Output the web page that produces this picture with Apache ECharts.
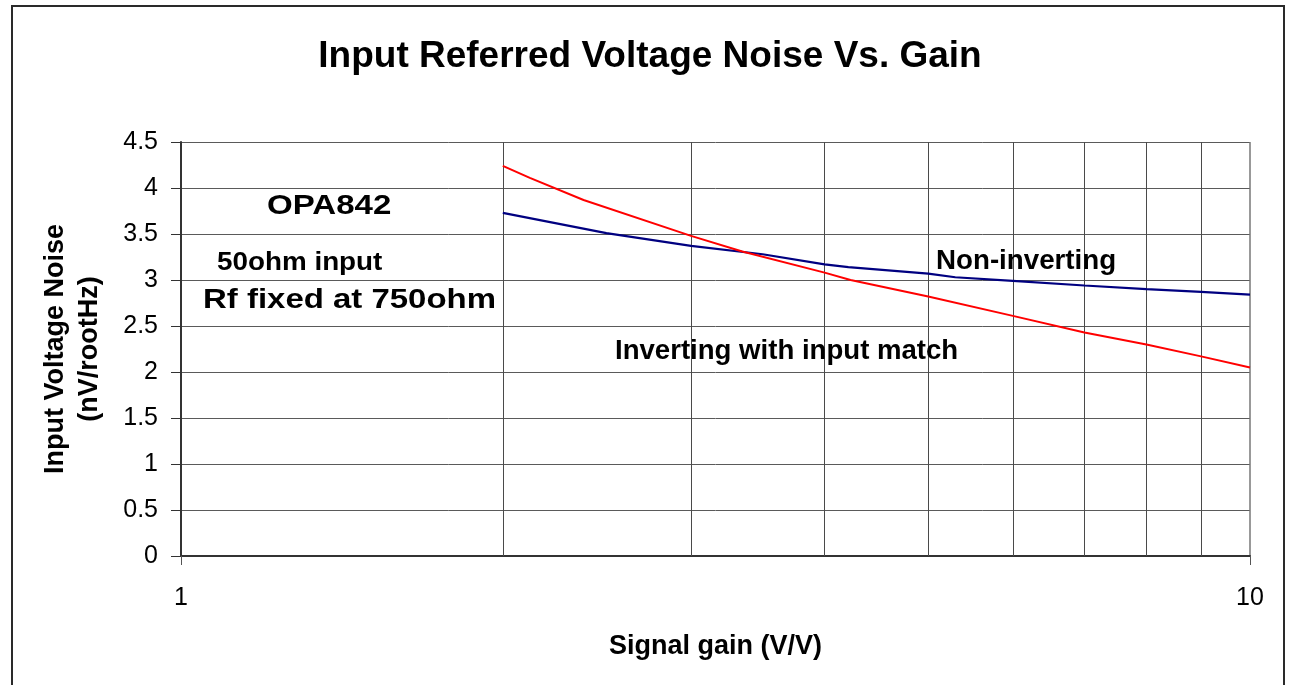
<!DOCTYPE html>
<html>
<head>
<meta charset="utf-8">
<title>Input Referred Voltage Noise Vs. Gain</title>
<script src="https://cdn.jsdelivr.net/npm/echarts@6/dist/echarts.min.js"></script>
<style>
  html, body { margin: 0; padding: 0; background: #ffffff; }
  #chart { width: 1291px; height: 685px; }
</style>
</head>
<body>
<div id="chart"></div>
<script>
// Inverting configuration (with input match): gain (V/V) and input noise (nV/rootHz)
const invGain  = [2, 2.12, 2.38, 3, 3.35, 4, 4.23, 5, 6, 7, 8, 9, 10];
const invNoise = [4.24, 4.11, 3.87, 3.48, 3.31, 3.08, 3.0, 2.82, 2.61, 2.43, 2.30, 2.17, 2.05];

// Non-inverting configuration
const nonInvGain  = [2, 2.5, 3, 3.5, 4, 4.21, 5, 5.3, 6, 7, 8, 9, 10];
const nonInvNoise = [3.73, 3.51, 3.37, 3.28, 3.17, 3.14, 3.07, 3.03, 2.99, 2.94, 2.90, 2.87, 2.84];

// Decade gridlines between 1 and 10
const minorGains = [2, 3, 4, 5, 6, 7, 8, 9];

// Y axis range
const yMin = 0, yMax = 4.5, yStep = 0.5;

const FONT = '"Liberation Sans", Arial, Helvetica, sans-serif';

function pairs(xs, ys) { return xs.map((x, i) => [x, ys[i]]); }

function label(text, x, y, size, sx) {
  return {
    type: 'text', x: x, y: y, scaleX: sx, scaleY: 1, silent: true, z: 50,
    style: {
      text: text, x: 0, y: 0,
      fontFamily: FONT, fontSize: size, fontWeight: 'bold', fill: '#000',
      textAlign: 'left', textVerticalAlign: 'middle', align: 'left', verticalAlign: 'middle'
    }
  };
}

const chart = echarts.init(document.getElementById('chart'), null, { renderer: 'canvas' });

chart.setOption({
  backgroundColor: '#ffffff',
  animation: false,
  grid: { left: 181, top: 142, right: 41, bottom: 129, containLabel: false },
  xAxis: {
    type: 'log', logBase: 10, min: 1, max: 10,
    name: 'Signal gain (V/V)', nameLocation: 'middle', nameGap: 77,
    nameTextStyle: { fontFamily: FONT, fontSize: 27, fontWeight: 'bold', color: '#000' },
    axisLine: { show: true, onZero: false, lineStyle: { color: '#333', width: 2 } },
    axisTick: { show: true, inside: false, length: 9, lineStyle: { color: '#555', width: 1 } },
    axisLabel: { fontFamily: FONT, fontSize: 25, color: '#000', margin: 30 },
    splitLine: { show: true, lineStyle: { color: '#777', width: 1.5 } }
  },
  yAxis: {
    type: 'value', min: yMin, max: yMax, interval: yStep,
    name: 'Input Voltage Noise\n(nV/rootHz)', nameLocation: 'middle', nameRotate: 90, nameGap: 74,
    nameTextStyle: { fontFamily: FONT, fontSize: 27, fontWeight: 'bold', color: '#000', lineHeight: 34, align: 'center' },
    axisLine: { show: true, lineStyle: { color: '#333', width: 2 } },
    axisTick: { show: true, inside: false, length: 10, lineStyle: { color: '#333', width: 1 } },
    axisLabel: { fontFamily: FONT, fontSize: 25, color: '#000', margin: 23 },
    splitLine: { show: true, lineStyle: { color: '#5a5a5a', width: 1 } }
  },
  series: [
    {
      name: 'Non-inverting', type: 'line', data: pairs(nonInvGain, nonInvNoise),
      showSymbol: false, symbol: 'none', smooth: false, z: 10,
      lineStyle: { color: '#000080', width: 2.2 },
      markLine: {
        silent: true, symbol: 'none', label: { show: false }, z: 1,
        lineStyle: { color: '#4a4a4a', width: 1, type: 'solid' },
        data: minorGains.map(g => ({ xAxis: g }))
      }
    },
    {
      name: 'Inverting with input match', type: 'line', data: pairs(invGain, invNoise),
      showSymbol: false, symbol: 'none', smooth: false, z: 11,
      lineStyle: { color: '#ff0000', width: 2 }
    }
  ],
  graphic: [
    {
      type: 'rect', silent: true, z: 0,
      shape: { x: 12, y: 6, width: 1272, height: 720 },
      style: { fill: 'none', stroke: '#2a2a2a', lineWidth: 2 }
    },
    {
      type: 'text', x: 650, y: 57, silent: true, z: 50,
      style: {
        text: 'Input Referred Voltage Noise Vs. Gain', x: 0, y: 0,
        fontFamily: FONT, fontSize: 37, fontWeight: 'bold', fill: '#000',
        textAlign: 'center', textVerticalAlign: 'middle', align: 'center', verticalAlign: 'middle'
      }
    },
    label('OPA842', 267, 206, 28, 1.18),
    label('50ohm input', 217, 263, 26, 1.07),
    label('Rf fixed at 750ohm', 203, 300, 28, 1.177),
    label('Non-inverting', 936, 261, 28, 0.99),
    label('Inverting with input match', 615, 351, 28, 0.985)
  ]
});
</script>
</body>
</html>
